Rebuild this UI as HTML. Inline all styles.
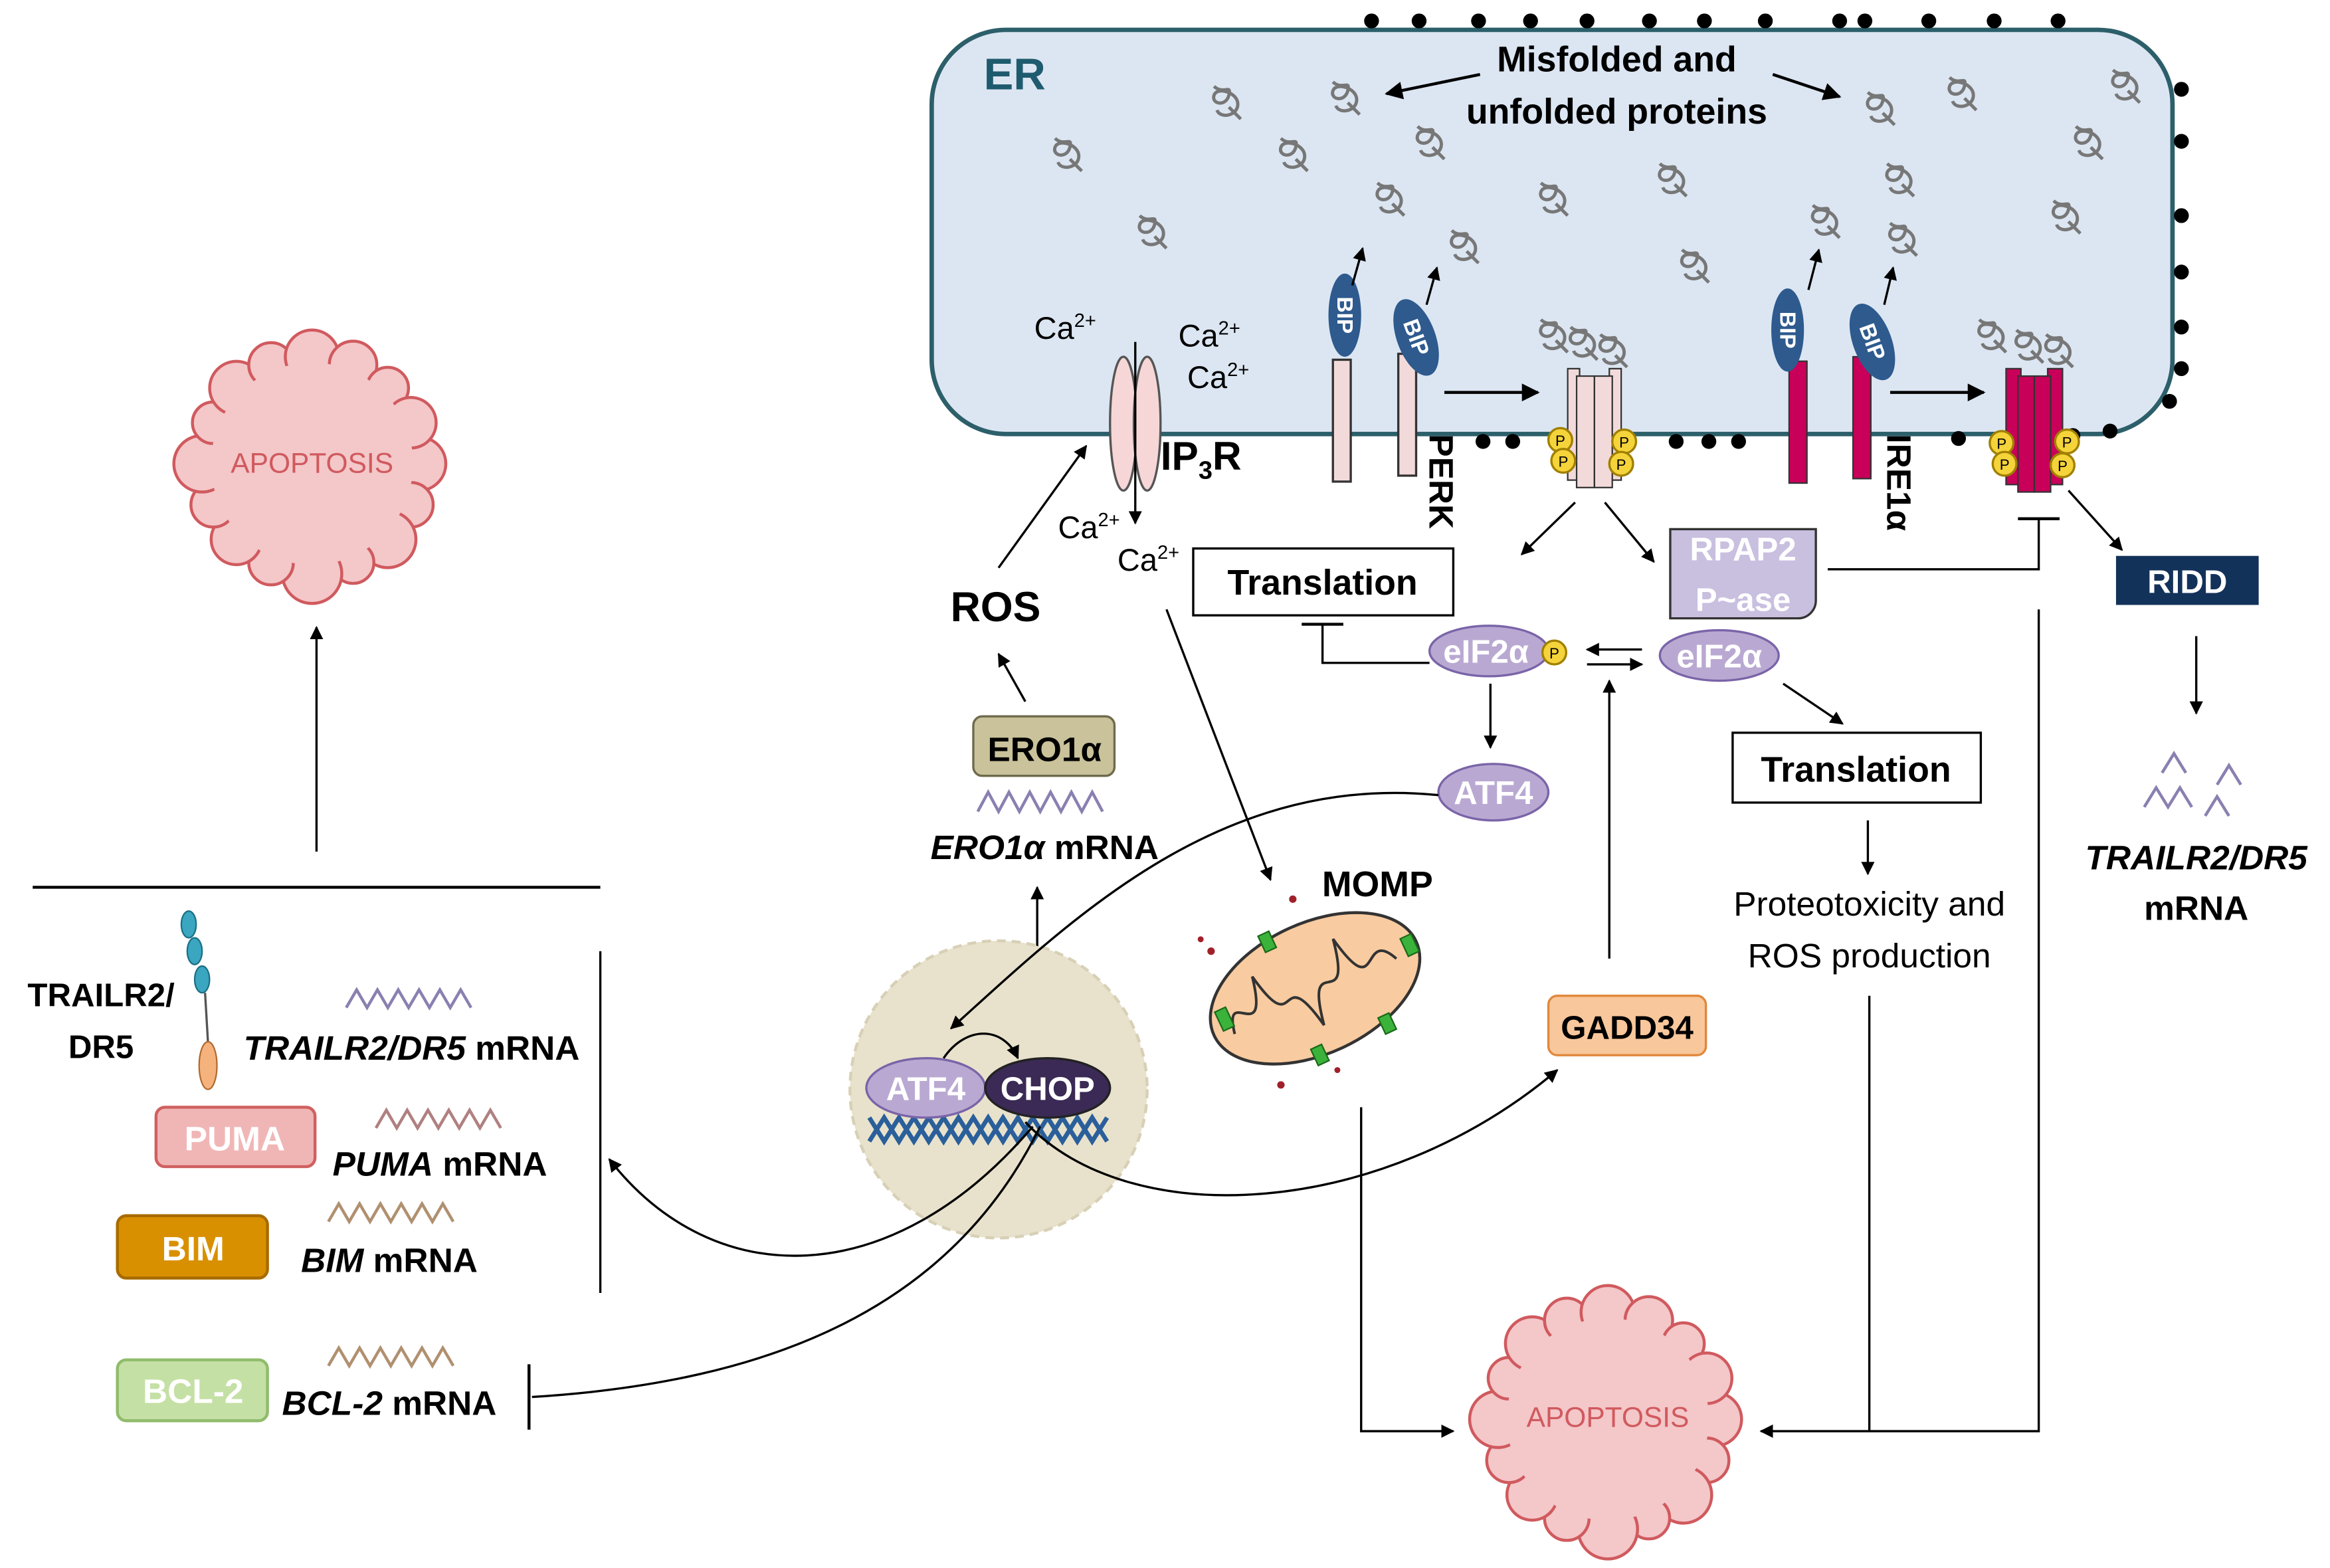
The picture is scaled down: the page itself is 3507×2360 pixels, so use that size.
<!DOCTYPE html>
<html><head><meta charset="utf-8"><style>
html,body{margin:0;padding:0;background:#fff;}
svg{display:block;}
text{font-family:"Liberation Sans",sans-serif;}
</style></head><body>
<svg width="3507" height="2360" viewBox="0 0 1568 1055" xmlns="http://www.w3.org/2000/svg">
<defs>
<marker id="a" viewBox="0 0 10 10" refX="9" refY="5" markerWidth="6" markerHeight="6" orient="auto"><path d="M0,0 L10,5 L0,10 z" fill="#000"/></marker>
<g id="p" fill="none" stroke="#777" stroke-width="2.2"><path d="M-8,-10 C-2,-4 4,-12 2,-4 C0,4 -10,2 -8,-4 C-6,-10 8,-6 8,2 C8,10 -4,12 -6,6 M2,4 L10,12"/></g>
<g id="blob">
<circle cx="72" cy="0" r="18" fill="#f4c7c9" stroke="#d05a5e" stroke-width="2"/>
<circle cx="66.5" cy="27.6" r="15" fill="#f4c7c9" stroke="#d05a5e" stroke-width="2"/>
<circle cx="50.9" cy="50.9" r="19" fill="#f4c7c9" stroke="#d05a5e" stroke-width="2"/>
<circle cx="27.6" cy="66.5" r="14" fill="#f4c7c9" stroke="#d05a5e" stroke-width="2"/>
<circle cx="0" cy="74" r="20" fill="#f4c7c9" stroke="#d05a5e" stroke-width="2"/>
<circle cx="-27.6" cy="66.5" r="15" fill="#f4c7c9" stroke="#d05a5e" stroke-width="2"/>
<circle cx="-50.9" cy="50.9" r="17" fill="#f4c7c9" stroke="#d05a5e" stroke-width="2"/>
<circle cx="-66.5" cy="27.6" r="15" fill="#f4c7c9" stroke="#d05a5e" stroke-width="2"/>
<circle cx="-74" cy="0" r="19" fill="#f4c7c9" stroke="#d05a5e" stroke-width="2"/>
<circle cx="-66.5" cy="-27.6" r="14" fill="#f4c7c9" stroke="#d05a5e" stroke-width="2"/>
<circle cx="-50.9" cy="-50.9" r="18" fill="#f4c7c9" stroke="#d05a5e" stroke-width="2"/>
<circle cx="-27.6" cy="-66.5" r="15" fill="#f4c7c9" stroke="#d05a5e" stroke-width="2"/>
<circle cx="0" cy="-72" r="18" fill="#f4c7c9" stroke="#d05a5e" stroke-width="2"/>
<circle cx="27.6" cy="-66.5" r="16" fill="#f4c7c9" stroke="#d05a5e" stroke-width="2"/>
<circle cx="50.9" cy="-50.9" r="14" fill="#f4c7c9" stroke="#d05a5e" stroke-width="2"/>
<circle cx="66.5" cy="-27.6" r="17" fill="#f4c7c9" stroke="#d05a5e" stroke-width="2"/>
<circle cx="0" cy="0" r="68" fill="#f4c7c9"/>
</g>
<g id="pp"><circle r="8" fill="#f5d33a" stroke="#a08000" stroke-width="1.5"/><text x="0" y="4" font-size="10" text-anchor="middle">P</text></g>
</defs>

<!-- ER -->
<rect x="627" y="20" width="835" height="272" rx="50" fill="#dce6f2" stroke="#2c5f6a" stroke-width="3"/>
<text x="662" y="60" font-size="30" font-weight="bold" fill="#1f5b6e">ER</text>
<text x="1088" y="48" font-size="24" font-weight="bold" text-anchor="middle">Misfolded and</text>
<text x="1088" y="83" font-size="24" font-weight="bold" text-anchor="middle">unfolded proteins</text>
<line x1="996" y1="50" x2="933" y2="63" stroke="#000" stroke-width="2" marker-end="url(#a)"/>
<line x1="1193" y1="50" x2="1238" y2="65" stroke="#000" stroke-width="2" marker-end="url(#a)"/>
<g fill="#000">
<circle cx="923" cy="14" r="5"/><circle cx="955" cy="14" r="5"/><circle cx="995" cy="14" r="5"/><circle cx="1030" cy="14" r="5"/><circle cx="1068" cy="14" r="5"/><circle cx="1110" cy="14" r="5"/><circle cx="1147" cy="14" r="5"/><circle cx="1188" cy="14" r="5"/><circle cx="1238" cy="14" r="5"/><circle cx="1255" cy="14" r="5"/><circle cx="1298" cy="14" r="5"/><circle cx="1342" cy="14" r="5"/><circle cx="1385" cy="14" r="5"/>
<circle cx="1468" cy="60" r="5"/><circle cx="1468" cy="95" r="5"/><circle cx="1468" cy="145" r="5"/><circle cx="1468" cy="183" r="5"/><circle cx="1468" cy="220" r="5"/><circle cx="1468" cy="248" r="5"/><circle cx="1460" cy="270" r="5"/>
<circle cx="1420" cy="290" r="5"/><circle cx="1395" cy="293" r="5"/><circle cx="1318" cy="295" r="5"/><circle cx="1128" cy="297" r="5"/><circle cx="1150" cy="297" r="5"/><circle cx="1170" cy="297" r="5"/><circle cx="998" cy="297" r="5"/><circle cx="1018" cy="297" r="5"/>
</g>
<use href="#p" x="825" y="68"/><use href="#p" x="905" y="65"/><use href="#p" x="718" y="103"/><use href="#p" x="870" y="103"/><use href="#p" x="962" y="95"/><use href="#p" x="775" y="155"/><use href="#p" x="935" y="133"/><use href="#p" x="985" y="165"/><use href="#p" x="1045" y="133"/><use href="#p" x="1125" y="120"/><use href="#p" x="1140" y="178"/><use href="#p" x="1265" y="72"/><use href="#p" x="1320" y="62"/><use href="#p" x="1430" y="57"/><use href="#p" x="1405" y="95"/><use href="#p" x="1278" y="120"/><use href="#p" x="1390" y="145"/><use href="#p" x="1228" y="148"/><use href="#p" x="1280" y="160"/>
<use href="#p" x="1045" y="225"/><use href="#p" x="1065" y="230"/><use href="#p" x="1085" y="235"/><use href="#p" x="1340" y="225"/><use href="#p" x="1365" y="232"/><use href="#p" x="1385" y="235"/>

<!-- IP3R -->
<ellipse cx="756" cy="285" rx="9" ry="45" fill="#f6d6d6" stroke="#555" stroke-width="1.5"/>
<ellipse cx="772" cy="285" rx="9" ry="45" fill="#f6d6d6" stroke="#555" stroke-width="1.5"/>
<line x1="764" y1="230" x2="764" y2="352" stroke="#000" stroke-width="1.5" marker-end="url(#a)"/>
<g font-size="21"><text x="696" y="228">Ca<tspan font-size="13" dy="-8">2+</tspan></text>
<text x="793" y="233">Ca<tspan font-size="13" dy="-8">2+</tspan></text>
<text x="799" y="261">Ca<tspan font-size="13" dy="-8">2+</tspan></text>
<text x="712" y="362">Ca<tspan font-size="13" dy="-8">2+</tspan></text>
<text x="752" y="384">Ca<tspan font-size="13" dy="-8">2+</tspan></text></g>
<text x="781" y="316" font-size="27" font-weight="bold">IP<tspan font-size="17" dy="6">3</tspan><tspan dy="-6">R</tspan></text>

<!-- PERK -->
<rect x="897" y="242" width="12" height="82" fill="#f3dada" stroke="#333" stroke-width="1.5"/>
<rect x="941" y="238" width="12" height="82" fill="#f3dada" stroke="#333" stroke-width="1.5"/>
<g transform="translate(905,212) rotate(0)"><ellipse rx="11" ry="28" fill="#2e5a8e"/><text transform="rotate(90)" x="0" y="5" font-size="15" font-weight="bold" fill="#fff" text-anchor="middle">BIP</text></g>
<g transform="translate(953,227) rotate(-20)"><ellipse rx="13" ry="27" fill="#2e5a8e"/><text transform="rotate(90)" x="0" y="5" font-size="15" font-weight="bold" fill="#fff" text-anchor="middle">BIP</text></g>
<line x1="910" y1="192" x2="917" y2="167" stroke="#000" stroke-width="1.5" marker-end="url(#a)"/>
<line x1="960" y1="205" x2="967" y2="180" stroke="#000" stroke-width="1.5" marker-end="url(#a)"/>
<text transform="translate(962,292) rotate(90)" font-size="23" font-weight="bold">PERK</text>
<line x1="972" y1="264" x2="1035" y2="264" stroke="#000" stroke-width="2" marker-end="url(#a)"/>
<rect x="1055" y="248" width="8" height="75" fill="#f3dada" stroke="#333"/><rect x="1083" y="248" width="8" height="75" fill="#f3dada" stroke="#333"/>
<rect x="1061" y="253" width="12" height="75" fill="#f3dada" stroke="#333"/><rect x="1073" y="253" width="12" height="75" fill="#f3dada" stroke="#333"/>
<use href="#pp" x="1050" y="296"/><use href="#pp" x="1052" y="310"/><use href="#pp" x="1093" y="297"/><use href="#pp" x="1091" y="312"/>

<!-- IRE1 -->
<rect x="1204" y="243" width="12" height="82" fill="#c8005a" stroke="#333" stroke-width="1"/>
<rect x="1247" y="240" width="12" height="82" fill="#c8005a" stroke="#333" stroke-width="1"/>
<g transform="translate(1203,222)"><ellipse rx="11" ry="28" fill="#2e5a8e"/><text transform="rotate(90)" x="0" y="5" font-size="15" font-weight="bold" fill="#fff" text-anchor="middle">BIP</text></g>
<g transform="translate(1260,230) rotate(-20)"><ellipse rx="13" ry="27" fill="#2e5a8e"/><text transform="rotate(90)" x="0" y="5" font-size="15" font-weight="bold" fill="#fff" text-anchor="middle">BIP</text></g>
<line x1="1217" y1="195" x2="1224" y2="168" stroke="#000" stroke-width="1.5" marker-end="url(#a)"/>
<line x1="1268" y1="205" x2="1274" y2="180" stroke="#000" stroke-width="1.5" marker-end="url(#a)"/>
<text transform="translate(1270,292) rotate(90)" font-size="23" font-weight="bold">IRE1α</text>
<line x1="1272" y1="264" x2="1335" y2="264" stroke="#000" stroke-width="2" marker-end="url(#a)"/>
<rect x="1350" y="248" width="10" height="78" fill="#c8005a" stroke="#333"/><rect x="1378" y="248" width="10" height="78" fill="#c8005a" stroke="#333"/>
<rect x="1358" y="253" width="11" height="78" fill="#c8005a" stroke="#333"/><rect x="1369" y="253" width="11" height="78" fill="#c8005a" stroke="#333"/>
<use href="#pp" x="1347" y="298"/><use href="#pp" x="1349" y="312"/><use href="#pp" x="1391" y="297"/><use href="#pp" x="1388" y="313"/>

<!-- below ER -->
<line x1="1060" y1="338" x2="1024" y2="373" stroke="#000" stroke-width="1.5" marker-end="url(#a)"/>
<line x1="1080" y1="338" x2="1113" y2="378" stroke="#000" stroke-width="1.5" marker-end="url(#a)"/>
<rect x="803" y="369" width="175" height="45" fill="#fff" stroke="#000" stroke-width="1.5"/>
<text x="890" y="400" font-size="24" font-weight="bold" text-anchor="middle">Translation</text>
<path d="M1124,356 h98 v48 a12,12 0 0 1 -12,12 h-86 z" fill="#c9bfdf" stroke="#333" stroke-width="1.5"/>
<text x="1173" y="377" font-size="22" font-weight="bold" fill="#fff" text-anchor="middle">RPAP2</text>
<text x="1173" y="411" font-size="22" font-weight="bold" fill="#fff" text-anchor="middle">P~ase</text>
<polyline points="1230,383 1372,383 1372,349" fill="none" stroke="#000" stroke-width="1.5"/>
<line x1="1358" y1="349" x2="1386" y2="349" stroke="#000" stroke-width="2"/>
<line x1="1392" y1="330" x2="1428" y2="370" stroke="#000" stroke-width="1.5" marker-end="url(#a)"/>
<rect x="1424" y="374" width="96" height="33" fill="#13325a"/>
<text x="1472" y="399" font-size="22" font-weight="bold" fill="#fff" text-anchor="middle">RIDD</text>
<line x1="1478" y1="428" x2="1478" y2="480" stroke="#000" stroke-width="1.5" marker-end="url(#a)"/>
<g fill="none" stroke="#8a80b0" stroke-width="2"><polyline points="1455,520 1463,507 1471,520"/><polyline points="1492,528 1500,515 1508,528"/><polyline points="1443,543 1451,530 1459,543 1467,530 1475,543"/><polyline points="1484,549 1492,536 1500,549"/></g>
<text x="1478" y="585" font-size="23" font-weight="bold" font-style="italic" text-anchor="middle">TRAILR2/DR5</text>
<text x="1478" y="619" font-size="23" font-weight="bold" text-anchor="middle">mRNA</text>

<ellipse cx="1002" cy="438" rx="40" ry="17" fill="#b9a9d2" stroke="#7a64a8" stroke-width="1.5"/>
<text x="1000" y="446" font-size="22" font-weight="bold" fill="#fff" text-anchor="middle">eIF2α</text>
<use href="#pp" x="1046" y="439"/>
<ellipse cx="1157" cy="441" rx="40" ry="17" fill="#b9a9d2" stroke="#7a64a8" stroke-width="1.5"/>
<text x="1157" y="449" font-size="22" font-weight="bold" fill="#fff" text-anchor="middle">eIF2α</text>
<line x1="1105" y1="437" x2="1068" y2="437" stroke="#000" stroke-width="1.5" marker-end="url(#a)"/>
<line x1="1068" y1="447" x2="1105" y2="447" stroke="#000" stroke-width="1.5" marker-end="url(#a)"/>
<polyline points="962,446 890,446 890,420" fill="none" stroke="#000" stroke-width="1.5"/>
<line x1="876" y1="420" x2="904" y2="420" stroke="#000" stroke-width="2"/>
<line x1="1003" y1="460" x2="1003" y2="503" stroke="#000" stroke-width="1.5" marker-end="url(#a)"/>
<ellipse cx="1005" cy="533" rx="37" ry="19" fill="#b9a9d2" stroke="#7a64a8" stroke-width="1.5"/>
<text x="1005" y="541" font-size="22" font-weight="bold" fill="#fff" text-anchor="middle">ATF4</text>
<line x1="1200" y1="460" x2="1240" y2="487" stroke="#000" stroke-width="1.5" marker-end="url(#a)"/>
<rect x="1166" y="493" width="167" height="47" fill="#fff" stroke="#000" stroke-width="1.5"/>
<text x="1249" y="526" font-size="24" font-weight="bold" text-anchor="middle">Translation</text>
<line x1="1257" y1="552" x2="1257" y2="588" stroke="#000" stroke-width="1.5" marker-end="url(#a)"/>
<text x="1258" y="616" font-size="23" text-anchor="middle">Proteotoxicity and</text>
<text x="1258" y="651" font-size="23" text-anchor="middle">ROS production</text>
<polyline points="1258,670 1258,963" fill="none" stroke="#000" stroke-width="1.5"/>
<polyline points="1372,410 1372,963 1185,963" fill="none" stroke="#000" stroke-width="1.5" marker-end="url(#a)"/>
<polyline points="916,745 916,963 978,963" fill="none" stroke="#000" stroke-width="1.5" marker-end="url(#a)"/>

<rect x="1042" y="670" width="106" height="40" rx="6" fill="#f8c79b" stroke="#e0883c" stroke-width="1.5"/>
<text x="1095" y="699" font-size="22" font-weight="bold" text-anchor="middle">GADD34</text>
<line x1="1083" y1="645" x2="1083" y2="458" stroke="#000" stroke-width="1.5" marker-end="url(#a)"/>

<!-- ROS / ERO1 -->
<text x="670" y="418" font-size="28" font-weight="bold" text-anchor="middle">ROS</text>
<line x1="672" y1="382" x2="731" y2="300" stroke="#000" stroke-width="1.5" marker-end="url(#a)"/>
<line x1="690" y1="472" x2="672" y2="440" stroke="#000" stroke-width="1.5" marker-end="url(#a)"/>
<rect x="655" y="482" width="95" height="40" rx="6" fill="#c9c29a" stroke="#6e6a4c" stroke-width="1.5"/>
<text x="703" y="512" font-size="23" font-weight="bold" text-anchor="middle">ERO1α</text>
<polyline points="658,546 665,533 672,546 679,533 686,546 693,533 700,546 707,533 714,546 721,533 728,546 735,533 742,546" fill="none" stroke="#8a80b0" stroke-width="2"/>
<text x="703" y="578" font-size="23" font-weight="bold" text-anchor="middle"><tspan font-style="italic">ERO1α</tspan> mRNA</text>
<line x1="698" y1="728" x2="698" y2="597" stroke="#000" stroke-width="1.5" marker-end="url(#a)"/>
<line x1="785" y1="410" x2="855" y2="592" stroke="#000" stroke-width="1.5" marker-end="url(#a)"/>

<!-- mito -->
<text x="927" y="603" font-size="24" font-weight="bold" text-anchor="middle">MOMP</text>
<g transform="translate(885,665) rotate(-25)">
<ellipse rx="75" ry="44" fill="#f8cba0" stroke="#333" stroke-width="2"/>
<path d="M-62,5 C-55,-30 -45,25 -35,-25 C-25,30 -15,-30 -5,25 C5,-30 15,30 25,-25 C35,30 45,-25 58,5" fill="none" stroke="#333" stroke-width="1.8"/>
<rect x="-68" y="-14" width="8" height="14" fill="#3bb33b" stroke="#1a6a1a"/>
<rect x="-20" y="-48" width="8" height="12" fill="#3bb33b" stroke="#1a6a1a"/>
<rect x="30" y="36" width="8" height="12" fill="#3bb33b" stroke="#1a6a1a"/>
<rect x="66" y="-6" width="8" height="13" fill="#3bb33b" stroke="#1a6a1a"/>
<rect x="-20" y="36" width="8" height="12" fill="#3bb33b" stroke="#1a6a1a"/>
</g>
<g fill="#a0202a"><circle cx="815" cy="640" r="2.5"/><circle cx="870" cy="605" r="2.5"/><circle cx="862" cy="730" r="2.5"/><circle cx="900" cy="720" r="2"/><circle cx="808" cy="632" r="2"/></g>

<!-- nucleus -->
<circle cx="672" cy="733" r="100" fill="#e8e2cc" stroke="#d8d0b6" stroke-width="2" stroke-dasharray="6,4"/>
<polyline points="585,752 595,768 605,752 615,768 625,752 635,768 645,752 655,768 665,752 675,768 685,752 695,768 705,752 715,768 725,752 735,768 745,752" fill="none" stroke="#2a5f9a" stroke-width="3"/>
<polyline points="585,768 595,752 605,768 615,752 625,768 635,752 645,768 655,752 665,768 675,752 685,768 695,752 705,768 715,752 725,768 735,752 745,768" fill="none" stroke="#2a5f9a" stroke-width="3"/>
<ellipse cx="623" cy="732" rx="40" ry="20" fill="#b9a9d2" stroke="#7a64a8" stroke-width="1.5"/>
<text x="623" y="740" font-size="22" font-weight="bold" fill="#fff" text-anchor="middle">ATF4</text>
<ellipse cx="705" cy="732" rx="42" ry="20" fill="#3b2a55" stroke="#222" stroke-width="1.5"/>
<text x="705" y="740" font-size="22" font-weight="bold" fill="#fff" text-anchor="middle">CHOP</text>
<path d="M635,712 C650,690 675,690 685,712" fill="none" stroke="#000" stroke-width="1.5" marker-end="url(#a)"/>
<path d="M968,535 C820,520 720,620 640,692" fill="none" stroke="#000" stroke-width="1.5" marker-end="url(#a)"/>
<path d="M690,755 C760,830 930,820 1048,720" fill="none" stroke="#000" stroke-width="1.5" marker-end="url(#a)"/>
<path d="M695,758 C600,870 480,870 410,780" fill="none" stroke="#000" stroke-width="1.5" marker-end="url(#a)"/>
<path d="M700,758 C640,880 520,930 358,940" fill="none" stroke="#000" stroke-width="1.5"/>
<line x1="356" y1="918" x2="356" y2="962" stroke="#000" stroke-width="2"/>

<!-- left -->
<use href="#blob" x="210" y="312"/>
<text x="210" y="318" font-size="19" fill="#d05a5e" text-anchor="middle">APOPTOSIS</text>
<use href="#blob" x="1082" y="955"/>
<text x="1082" y="960" font-size="19" fill="#d05a5e" text-anchor="middle">APOPTOSIS</text>
<line x1="213" y1="573" x2="213" y2="422" stroke="#000" stroke-width="1.5" marker-end="url(#a)"/>
<line x1="22" y1="597" x2="404" y2="597" stroke="#000" stroke-width="2"/>
<line x1="404" y1="640" x2="404" y2="870" stroke="#000" stroke-width="1.5"/>
<text x="68" y="677" font-size="22" font-weight="bold" text-anchor="middle">TRAILR2/</text>
<text x="68" y="712" font-size="22" font-weight="bold" text-anchor="middle">DR5</text>
<g fill="#3aa6c0" stroke="#1b6f85"><ellipse cx="127" cy="622" rx="5" ry="9"/><ellipse cx="131" cy="640" rx="5" ry="9"/><ellipse cx="136" cy="659" rx="5" ry="9"/></g>
<line x1="138" y1="668" x2="140" y2="702" stroke="#555" stroke-width="1.5"/>
<ellipse cx="140" cy="717" rx="6" ry="16" fill="#f6b27c" stroke="#b06a30"/>
<polyline points="233,678 240,666 247,678 254,666 261,678 268,666 275,678 282,666 289,678 296,666 303,678 310,666 317,678" fill="none" stroke="#8a80b0" stroke-width="2"/>
<text x="277" y="713" font-size="23" font-weight="bold" text-anchor="middle"><tspan font-style="italic">TRAILR2/DR5</tspan> mRNA</text>
<rect x="105" y="745" width="107" height="40" rx="6" fill="#f0b6b6" stroke="#d06060" stroke-width="2"/>
<text x="158" y="774" font-size="23" font-weight="bold" fill="#fff" text-anchor="middle">PUMA</text>
<polyline points="253,759 260,747 267,759 274,747 281,759 288,747 295,759 302,747 309,759 316,747 323,759 330,747 337,759" fill="none" stroke="#b08080" stroke-width="2"/>
<text x="296" y="791" font-size="23" font-weight="bold" text-anchor="middle"><tspan font-style="italic">PUMA</tspan> mRNA</text>
<rect x="79" y="818" width="101" height="42" rx="6" fill="#d99000" stroke="#a86b00" stroke-width="2"/>
<text x="130" y="848" font-size="23" font-weight="bold" fill="#fff" text-anchor="middle">BIM</text>
<polyline points="221,822 228,810 235,822 242,810 249,822 256,810 263,822 270,810 277,822 284,810 291,822 298,810 305,822" fill="none" stroke="#b09070" stroke-width="2"/>
<text x="262" y="856" font-size="23" font-weight="bold" text-anchor="middle"><tspan font-style="italic">BIM</tspan> mRNA</text>
<rect x="79" y="915" width="101" height="41" rx="6" fill="#c5e0a5" stroke="#8fbc6b" stroke-width="2"/>
<text x="130" y="944" font-size="23" font-weight="bold" fill="#fff" text-anchor="middle">BCL-2</text>
<polyline points="221,919 228,907 235,919 242,907 249,919 256,907 263,919 270,907 277,919 284,907 291,919 298,907 305,919" fill="none" stroke="#b09070" stroke-width="2"/>
<text x="262" y="952" font-size="23" font-weight="bold" text-anchor="middle"><tspan font-style="italic">BCL-2</tspan> mRNA</text>
</svg>
</body></html>
